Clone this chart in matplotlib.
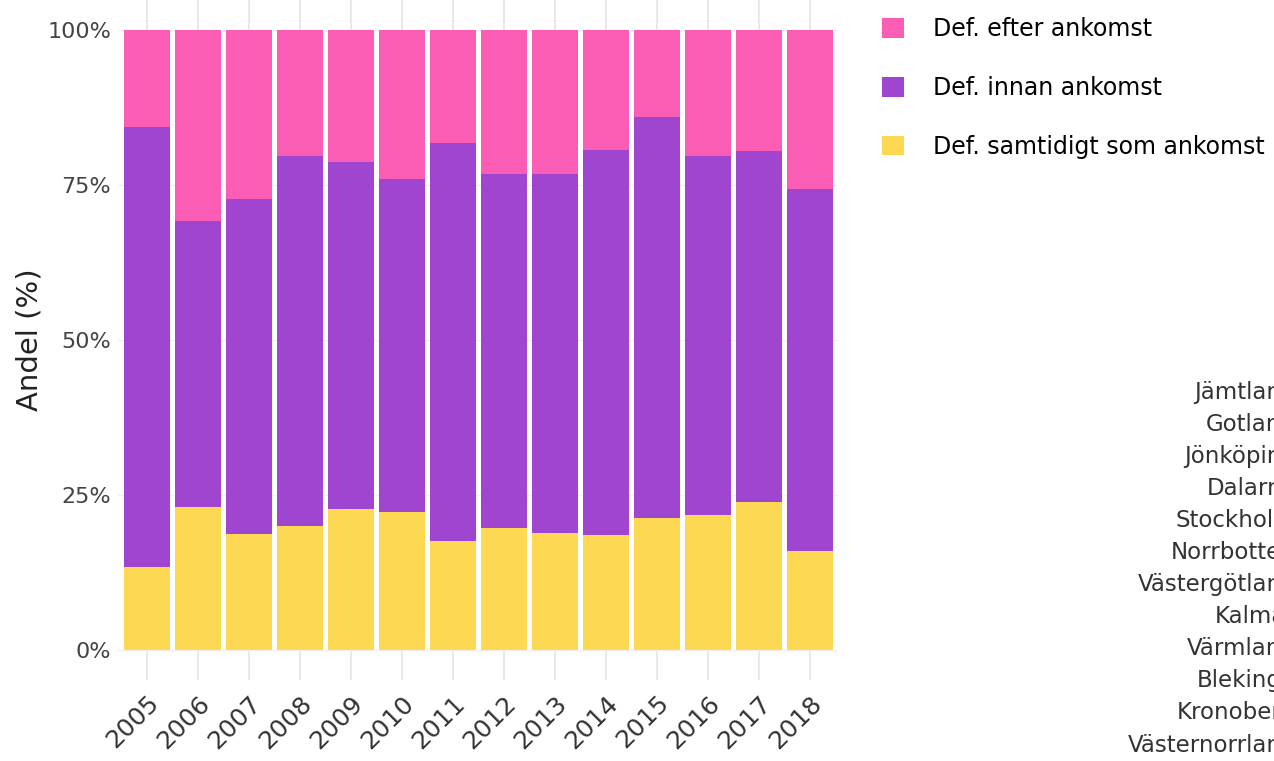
import matplotlib
matplotlib.use("Agg")
import matplotlib.pyplot as plt
import numpy as np
from matplotlib.patches import Patch

plt.rcParams["font.family"] = ["DejaVu Sans"]

years = [str(y) for y in range(2005, 2019)]
# shares in percent
samtidigt = [13.4, 23.1, 18.7, 20.0, 22.7, 22.3, 17.6, 19.7, 18.9, 18.5, 21.3, 21.8, 23.9, 16.0]
innan = [71.0, 46.1, 54.0, 59.7, 56.0, 53.7, 64.2, 57.1, 57.9, 62.1, 64.7, 57.9, 56.6, 58.4]
efter = [15.6, 30.8, 27.3, 20.3, 21.3, 24.0, 18.2, 23.2, 23.2, 19.4, 14.0, 20.3, 19.5, 25.6]

series_names = ["Def. efter ankomst", "Def. innan ankomst", "Def. samtidigt som ankomst"]
colors = ["#fb5cb4", "#a045cf", "#fdd853"]

# tick labels of the neighbouring (cropped) panel
counties = ["Jämtland", "Gotland", "Jönköping", "Dalarna", "Stockholm", "Norrbotten",
            "Västergötland", "Kalmar", "Värmland", "Blekinge", "Kronoberg", "Västernorrland"]

W, H = 1274, 761
fig = plt.figure(figsize=(W / 100, H / 100), dpi=100)
ax = fig.add_axes([118 / W, 1 - 680 / H, 720 / W, 680 / H])

x = np.arange(len(years))
bottom = np.zeros(len(years))
for vals, col in zip([samtidigt, innan, efter], colors[::-1]):
    ax.bar(x, vals, bottom=bottom, width=0.9, color=col, zorder=2, linewidth=0)
    bottom += np.array(vals)

ax.set_xlim(-0.57, len(years) - 1 + 0.55)
ax.set_ylim(-4.8, 104.8)
ax.set_xticks(x)
ax.set_xticklabels(years, rotation=45, ha="right", rotation_mode="anchor",
                   fontsize=18, color="#333333")
ax.set_yticks([0, 25, 50, 75, 100])
ax.set_yticklabels(["0%", "25%", "50%", "75%", "100%"], fontsize=16, color="#444444")
ax.tick_params(axis="both", length=0)
ax.tick_params(axis="x", pad=8)
ax.tick_params(axis="y", pad=5)
ax.grid(axis="x", color="#e6e6e6", linewidth=1.3, zorder=0)
ax.grid(axis="y", color="#f0f0f0", linewidth=1.0, zorder=0)
for s in ax.spines.values():
    s.set_visible(False)
ax.set_ylabel("Andel (%)", fontsize=21, color="#222222", labelpad=3)

handles = [Patch(facecolor=c, edgecolor="none") for c in colors]
fig.legend(handles, series_names, loc="upper left", bbox_to_anchor=(861 / W, 1 + 4 / H),
           frameon=False, fontsize=17, handlelength=0.9, handleheight=0.9,
           labelspacing=1.47, handletextpad=1.25)

for i, name in enumerate(counties):
    fig.text(1296 / W, 1 - (392 + i * 32.1) / H, name, ha="right", va="center",
             fontsize=16.5, color="#333333")

fig.savefig("out.png", dpi=100)
